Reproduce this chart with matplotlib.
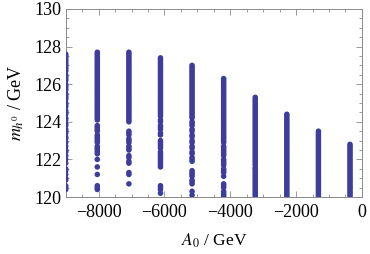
import numpy as np
import matplotlib
matplotlib.use("Agg")
import matplotlib.pyplot as plt
from matplotlib.ticker import MultipleLocator

plt.rcParams['font.family'] = ['Liberation Serif', 'DejaVu Serif']
plt.rcParams['mathtext.fontset'] = 'stix'

# A0 values of the scan columns (GeV)
a0_values = [-9000, -8040, -7080, -6120, -5160, -4200, -3240, -2280, -1320, -360]

# Higgs masses read per column (GeV)
mh_m9000 = [127.6, 127.5, 127.4, 127.3, 127.2, 127.1, 127.0, 126.9, 126.8, 126.7,
            126.5, 126.4, 126.3, 126.2, 126.0, 125.9, 125.8, 125.7, 125.5, 125.4,
            125.3, 125.2, 125.0, 124.9, 124.8, 124.6, 124.5, 124.4, 124.2, 124.1,
            123.9, 123.8, 123.6, 123.5, 123.4, 123.2, 123.1, 122.9, 122.7, 122.5,
            122.4, 122.2, 122.0, 121.8, 121.5, 121.4, 121.2, 121.0, 120.9, 120.6,
            120.5, 120.4]
mh_m8040 = [127.7, 127.6, 127.5, 127.4, 127.3, 127.2, 127.1, 127.0, 126.9, 126.8,
            126.7, 126.6, 126.5, 126.4, 126.3, 126.2, 126.1, 126.0, 125.9, 125.8,
            125.7, 125.6, 125.5, 125.4, 125.3, 125.2, 125.1, 125.0, 124.9, 124.8,
            124.7, 124.6, 124.5, 124.4, 124.3, 124.2, 124.1,
            123.8, 123.7, 123.6, 123.5, 123.3, 123.2, 123.1, 123.0, 122.9, 122.7,
            122.6, 122.5, 122.4, 122.3, 122.0, 121.6, 121.2, 120.6, 120.5, 120.4]
mh_m7080 = [127.7, 127.6, 127.5, 127.4, 127.3, 127.2, 127.1, 127.0, 126.9, 126.8,
            126.7, 126.6, 126.5, 126.4, 126.3, 126.2, 126.1, 126.0, 125.9, 125.8,
            125.7, 125.6, 125.5, 125.4, 125.3, 125.2, 125.1, 125.0, 124.9, 124.8,
            124.7, 124.6, 124.5, 124.4, 124.3, 124.2, 124.1, 124.0,
            123.5, 123.4, 123.3, 123.1, 123.0, 122.9, 122.7, 122.6, 122.5,
            122.2, 122.1, 121.9, 121.8, 121.3, 121.2, 120.7]
mh_m6120 = [127.4, 127.3, 127.2, 127.1, 127.0, 126.9, 126.8, 126.7, 126.6, 126.5,
            126.4, 126.3, 126.2, 126.1, 126.0, 125.9, 125.8, 125.7, 125.6, 125.5,
            125.4, 125.3, 125.2, 125.1, 125.0, 124.9, 124.8, 124.7, 124.6, 124.5,
            124.4, 124.3, 124.1, 124.0, 123.8, 123.7, 123.6, 123.4, 123.3, 123.0,
            122.9, 122.8, 122.7, 122.6, 122.4, 122.3, 122.2, 122.1, 122.0, 121.9,
            121.8, 121.7, 121.6, 120.6, 120.5, 120.4, 120.2]
mh_m5160 = [127.0, 126.9, 126.8, 126.7, 126.6, 126.5, 126.4, 126.3, 126.2, 126.1,
            126.0, 125.9, 125.8, 125.7, 125.6, 125.5, 125.4, 125.3, 125.2, 125.1,
            125.0, 124.9, 124.8, 124.7, 124.6, 124.5, 124.4, 124.3,
            124.2, 124.0, 123.9, 123.8, 123.6, 123.5, 123.3, 123.2, 123.0, 122.9,
            122.7, 122.6, 122.4, 122.3, 122.1, 122.0, 121.9,
            121.4, 121.3, 121.2, 121.1, 120.9, 120.8, 120.7, 120.3, 120.1]
mh_m4200 = [126.3, 126.2, 126.1, 126.0, 125.9, 125.8, 125.7, 125.6, 125.5, 125.4,
            125.3, 125.2, 125.1, 125.0, 124.9, 124.8, 124.7, 124.6, 124.5, 124.4,
            124.3, 124.2, 124.1, 124.0, 123.9, 123.8, 123.7, 123.6, 123.5, 123.4,
            123.3, 123.2, 123.1, 123.0, 122.9,
            122.7, 122.6, 122.5, 122.4, 122.3, 122.2, 122.0, 121.9, 121.8, 121.7,
            121.5, 121.4, 121.3, 121.1,
            120.7, 120.6, 120.5, 120.3, 120.2, 120.1, 120.0]
mh_m3240 = [125.3, 125.2, 125.1, 125.0, 124.9, 124.8, 124.7, 124.6, 124.5, 124.4,
            124.3, 124.2, 124.1, 124.0, 123.9, 123.8, 123.7, 123.6, 123.5, 123.4,
            123.3, 123.2, 123.1, 123.0, 122.9, 122.8, 122.7, 122.6, 122.5, 122.4,
            122.3, 122.2, 122.1, 122.0, 121.9, 121.8, 121.7,
            121.55, 121.5, 121.4, 121.3, 121.2, 121.1, 121.0, 120.9, 120.8, 120.7,
            120.6, 120.5, 120.4, 120.3, 120.2, 120.1, 120.0, 119.9]
mh_m2280 = [124.4, 124.3, 124.2, 124.1, 124.0, 123.9, 123.8, 123.7, 123.6, 123.5,
            123.4, 123.3, 123.2, 123.1, 123.0, 122.9, 122.8, 122.7, 122.6, 122.5,
            122.4, 122.3, 122.2, 122.1, 122.0, 121.9, 121.8, 121.7, 121.6, 121.5,
            121.4, 121.3, 121.2, 121.1, 121.0, 120.9, 120.8, 120.7, 120.6, 120.5,
            120.4, 120.3, 120.2, 120.1, 120.0, 119.9]
mh_m1320 = [123.5, 123.4, 123.3, 123.2, 123.1, 123.0, 122.9, 122.8, 122.7, 122.6,
            122.5, 122.4, 122.3, 122.2, 122.1, 122.0, 121.9, 121.8, 121.7, 121.6,
            121.5, 121.4, 121.3, 121.2, 121.1, 121.0, 120.9, 120.8, 120.7, 120.6,
            120.5, 120.4, 120.3, 120.2, 120.1, 120.0, 119.9]
mh_m360 = [122.8, 122.7, 122.6, 122.5, 122.4, 122.3, 122.2, 122.1, 122.0, 121.9,
           121.8, 121.7, 121.6, 121.5, 121.4, 121.3, 121.2, 121.1, 121.0, 120.9,
           120.8, 120.7, 120.6, 120.5, 120.4, 120.3, 120.2, 120.1, 120.0, 119.9]

columns = [mh_m9000, mh_m8040, mh_m7080, mh_m6120, mh_m5160,
           mh_m4200, mh_m3240, mh_m2280, mh_m1320, mh_m360]

xs = []
ys = []
for a0, mh in zip(a0_values, columns):
    xs += [a0] * len(mh)
    ys += mh

fig = plt.figure(figsize=(3.7, 2.54), dpi=100)
ax = fig.add_axes([0.1776, 0.2244, 0.8004, 0.7402])

ax.scatter(xs, ys, s=16, color='#3d3d9c', edgecolors='none', zorder=3)

ax.set_xlim(-9000, 0)
ax.set_ylim(120, 130)
ax.xaxis.set_major_locator(MultipleLocator(2000))
ax.xaxis.set_minor_locator(MultipleLocator(500))
ax.yaxis.set_major_locator(MultipleLocator(2))
ax.yaxis.set_minor_locator(MultipleLocator(0.5))

for sp in ax.spines.values():
    sp.set_color('#8a8a8a')
    sp.set_linewidth(0.7)

ax.tick_params(which='both', direction='in', top=True, right=True,
               color='#8a8a8a', width=0.6, labelsize=13)
ax.tick_params(which='major', length=4)
ax.tick_params(which='minor', length=2)
ax.tick_params(axis='x', pad=5)
ax.tick_params(axis='y', pad=3)

ax.set_xticks([-8000, -6000, -4000, -2000, 0])
ax.set_xticklabels(['\u22128000', '\u22126000', '\u22124000', '\u22122000', '0'])

ax.set_xlabel(r'$A_0$ / GeV', fontsize=12.5, labelpad=8)
ax.set_ylabel(r'$m_{h^0}$ / GeV', fontsize=13, labelpad=6)

fig.savefig('out.png', dpi=100)
